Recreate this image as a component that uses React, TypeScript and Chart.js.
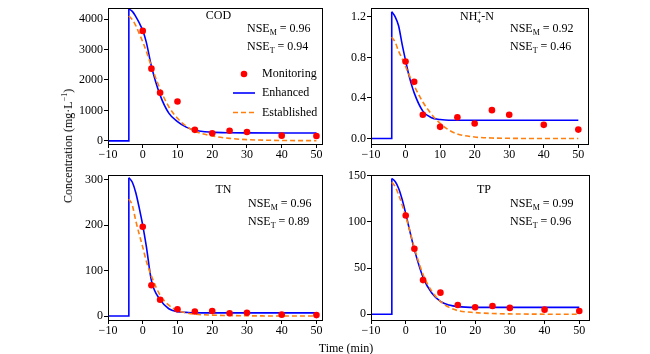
import React, { useEffect, useRef } from "react";
import { Chart, registerables } from "chart.js";
Chart.register(...registerables);

const FONT = "'Liberation Serif', 'Times New Roman', serif";
const BLUE = "#0000ff";
const ORANGE = "#ff7f0e";
const RED = "#ff0000";

// ---------- data ----------
const preTime = [-10, -4];
const preConc = [0, 0];
const curveTime = [-4, -3, -2, -1, 0, 1, 2.5, 5, 7.5, 10, 12.5, 15, 20, 25, 30, 40, 50];
const sampleTime = [0, 2.5, 5, 10, 15, 20, 25, 30, 40, 50];
const timeTicks = [-10, 0, 10, 20, 30, 40, 50];

const codEnhanced = [4330, 4250, 4080, 3870, 3620, 3250, 2450, 1500, 910, 630, 450, 350, 285, 265, 260, 258, 258];
const codEstablished = [4100, 3980, 3780, 3520, 3250, 2950, 2450, 1700, 1120, 740, 480, 320, 160, 80, 40, 12, 5];
const codMonitoring = [3610, 2370, 1580, 1290, 360, 250, 330, 290, 170, 160];
const codTicks = [0, 1000, 2000, 3000, 4000];

const nh4Enhanced = [1.25, 1.2, 1.11, 0.93, 0.77, 0.62, 0.45, 0.27, 0.205, 0.188, 0.18, 0.18, 0.18, 0.18, 0.18, 0.18, 0.18];
const nh4Established = [1.0, 0.95, 0.86, 0.79, 0.71, 0.63, 0.52, 0.36, 0.24, 0.15, 0.085, 0.045, 0.015, 0.005, 0.002, 0, 0];
const nh4Monitoring = [0.76, 0.56, 0.235, 0.115, 0.21, 0.148, 0.28, 0.235, 0.135, 0.088];
const nh4Ticks = [0, 0.4, 0.8, 1.2];

const tnEnhanced = [305, 295, 272, 238, 200, 155, 78, 36, 16, 9.5, 8, 7, 7, 7, 7, 7, 7];
const tnEstablished = [258, 244, 210, 180, 152, 122, 88, 46, 24, 12, 7, 4, 2, 1, 0.5, 0, 0];
const tnMonitoring = [197, 68, 36, 15, 10, 11, 6, 7, 3, 2];
const tnTicks = [0, 100, 200, 300];

const tpEnhanced = [147, 143.5, 136, 124, 109, 93, 70, 40, 23, 14, 10, 8.3, 7.5, 7.5, 7.5, 7.5, 7.5];
const tpEstablished = [143, 138, 129, 118, 106, 93, 72, 43, 25, 14, 7.5, 4, 1.8, 0.8, 0.4, 0.1, 0];
const tpMonitoring = [107, 71, 37, 23.4, 10, 7.6, 9, 6.9, 5, 3.6];
const tpTicks = [0, 50, 100, 150];

const nseM = ["0.96", "0.92", "0.96", "0.99"];
const nseT = ["0.94", "0.46", "0.89", "0.96"];

// ---------- helpers ----------
const pts = (xs: number[], ys: number[]) => xs.map((x, i) => ({ x, y: ys[i] }));
const fmtNum = (v: number, d: number) => {
  const s = v.toFixed(d);
  return v < 0 ? "\u2212" + s.slice(1) : s;
};

function drawNSE(ctx: CanvasRenderingContext2D, x: number, yMid: number, sub: string, val: string) {
  const base = yMid + 4;
  ctx.fillStyle = "#000";
  ctx.textAlign = "left";
  ctx.textBaseline = "alphabetic";
  ctx.font = `12px ${FONT}`;
  ctx.fillText("NSE", x, base);
  let w = ctx.measureText("NSE").width;
  ctx.font = `8px ${FONT}`;
  ctx.fillText(sub, x + w, base + 3);
  w += ctx.measureText(sub).width;
  ctx.font = `12px ${FONT}`;
  ctx.fillText(" = " + val, x + w, base);
}

function drawTitle(ctx: CanvasRenderingContext2D, text: string, cx: number, yMid: number) {
  ctx.fillStyle = "#000";
  ctx.font = `12px ${FONT}`;
  ctx.textAlign = "center";
  ctx.textBaseline = "middle";
  ctx.fillText(text, cx, yMid);
}

function drawNH4(ctx: CanvasRenderingContext2D, x: number, yMid: number) {
  const base = yMid + 4;
  ctx.fillStyle = "#000";
  ctx.textAlign = "left";
  ctx.textBaseline = "alphabetic";
  ctx.font = `12px ${FONT}`;
  ctx.fillText("NH", x, base);
  let w = ctx.measureText("NH").width;
  ctx.font = `7px ${FONT}`;
  ctx.fillText("4", x + w, base + 3);
  ctx.fillText("+", x + w, base - 5);
  w += Math.max(ctx.measureText("4").width, ctx.measureText("+").width);
  ctx.font = `12px ${FONT}`;
  ctx.fillText("-N", x + w, base);
}

function drawLegend(ctx: CanvasRenderingContext2D) {
  const x0 = 233, x1 = 255, tx = 262;
  ctx.fillStyle = RED;
  ctx.beginPath();
  ctx.arc((x0 + x1) / 2, 74, 3.3, 0, Math.PI * 2);
  ctx.fill();
  ctx.lineWidth = 1.6;
  ctx.strokeStyle = BLUE;
  ctx.setLineDash([]);
  ctx.beginPath();
  ctx.moveTo(x0, 93);
  ctx.lineTo(x1, 93);
  ctx.stroke();
  ctx.strokeStyle = ORANGE;
  ctx.setLineDash([5, 3]);
  ctx.beginPath();
  ctx.moveTo(x0, 112.5);
  ctx.lineTo(x1, 112.5);
  ctx.stroke();
  ctx.setLineDash([]);
  ctx.fillStyle = "#000";
  ctx.font = `12px ${FONT}`;
  ctx.textAlign = "left";
  ctx.textBaseline = "middle";
  ctx.fillText("Monitoring", tx, 74);
  ctx.fillText("Enhanced", tx, 93);
  ctx.fillText("Established", tx, 112.5);
}

type Box = { left: number; top: number; width: number; height: number };
type Area = { left: number; top: number; right: number; bottom: number };
type PanelCfg = {
  id: string;
  box: Box;
  area: Area;
  xMax: number;
  yMin: number;
  yMax: number;
  yTicks: number[];
  decimals: number;
  enhanced: number[];
  established: number[];
  monitoring: number[];
  annotate: (ctx: CanvasRenderingContext2D) => void;
};

const panels: PanelCfg[] = [
  {
    id: "COD",
    box: { left: 20, top: 0, width: 315, height: 165 },
    area: { left: 108, top: 2, right: 322, bottom: 144 },
    xMax: 51.6, yMin: -104, yMax: 4355, yTicks: codTicks, decimals: 0,
    enhanced: codEnhanced, established: codEstablished, monitoring: codMonitoring,
    annotate: (ctx) => {
      drawTitle(ctx, "COD", 218.5, 16);
      drawNSE(ctx, 247, 28, "M", nseM[0]);
      drawNSE(ctx, 247, 46, "T", nseT[0]);
      drawLegend(ctx);
    },
  },
  {
    id: "NH4",
    box: { left: 335, top: 0, width: 265, height: 165 },
    area: { left: 371, top: 2, right: 588, bottom: 144 },
    xMax: 52.8, yMin: -0.054, yMax: 1.285, yTicks: nh4Ticks, decimals: 1,
    enhanced: nh4Enhanced, established: nh4Established, monitoring: nh4Monitoring,
    annotate: (ctx) => {
      drawNH4(ctx, 460, 16);
      drawNSE(ctx, 510, 28, "M", nseM[1]);
      drawNSE(ctx, 510, 46, "T", nseT[1]);
    },
  },
  {
    id: "TN",
    box: { left: 20, top: 160, width: 315, height: 180 },
    area: { left: 108, top: 175, right: 322, bottom: 320 },
    xMax: 51.6, yMin: -8.8, yMax: 311, yTicks: tnTicks, decimals: 0,
    enhanced: tnEnhanced, established: tnEstablished, monitoring: tnMonitoring,
    annotate: (ctx) => {
      drawTitle(ctx, "TN", 223.5, 189.5);
      drawNSE(ctx, 248, 202.5, "M", nseM[2]);
      drawNSE(ctx, 248, 220.5, "T", nseT[2]);
    },
  },
  {
    id: "TP",
    box: { left: 335, top: 160, width: 265, height: 180 },
    area: { left: 371, top: 175, right: 589, bottom: 320 },
    xMax: 52.8, yMin: -6.2, yMax: 150.8, yTicks: tpTicks, decimals: 0,
    enhanced: tpEnhanced, established: tpEstablished, monitoring: tpMonitoring,
    annotate: (ctx) => {
      drawTitle(ctx, "TP", 484, 189.5);
      drawNSE(ctx, 510, 202.5, "M", nseM[3]);
      drawNSE(ctx, 510, 220.5, "T", nseT[3]);
    },
  },
];

function Panel({ cfg }: { cfg: PanelCfg }) {
  const ref = useRef<HTMLCanvasElement | null>(null);
  useEffect(() => {
    const canvas = ref.current;
    if (!canvas) return;
    const { box, area } = cfg;
    const yWidth = area.left - box.left;
    const xHeight = box.top + box.height - area.bottom;
    const padRight = box.left + box.width - area.right;
    const padTop = area.top - box.top;

    const framePlugin = {
      id: "frameAnnot",
      afterDraw(chart: any) {
        const ctx: CanvasRenderingContext2D = chart.ctx;
        const a = chart.chartArea;
        ctx.save();
        ctx.strokeStyle = "#000";
        ctx.lineWidth = 1;
        ctx.setLineDash([]);
        ctx.strokeRect(Math.round(a.left) + 0.5, Math.round(a.top) + 0.5, Math.round(a.right - a.left), Math.round(a.bottom - a.top));
        ctx.translate(-box.left, -box.top);
        cfg.annotate(ctx);
        ctx.restore();
      },
    };

    const peak = cfg.enhanced[0];
    const chart = new Chart(canvas, {
      type: "line",
      data: {
        datasets: [
          {
            label: "Monitoring",
            data: pts(sampleTime, cfg.monitoring),
            showLine: false,
            pointRadius: 3.3,
            pointBorderWidth: 0,
            pointBackgroundColor: RED,
            borderColor: RED,
            backgroundColor: RED,
            order: 0,
          },
          {
            label: "Established",
            data: pts(curveTime, cfg.established),
            borderColor: ORANGE,
            borderWidth: 1.6,
            borderDash: [5, 3],
            pointRadius: 0,
            cubicInterpolationMode: "monotone",
            order: 1,
          },
          {
            label: "Enhanced",
            data: pts(curveTime, cfg.enhanced),
            borderColor: BLUE,
            borderWidth: 1.6,
            pointRadius: 0,
            cubicInterpolationMode: "monotone",
            order: 2,
          },
          {
            label: "Enhanced (pre)",
            data: [...pts(preTime, preConc), { x: curveTime[0], y: peak }],
            borderColor: BLUE,
            borderWidth: 1.6,
            pointRadius: 0,
            tension: 0,
            order: 3,
          },
        ],
      } as any,
      options: {
        animation: false,
        responsive: false,
        events: [],
        layout: { padding: { left: 0, right: padRight, top: padTop, bottom: 0 } },
        plugins: { legend: { display: false }, tooltip: { enabled: false } },
        scales: {
          x: {
            type: "linear",
            min: -10,
            max: cfg.xMax,
            afterBuildTicks: (axis: any) => {
              axis.ticks = timeTicks.map((v) => ({ value: v }));
            },
            afterFit: (s: any) => {
              s.height = xHeight;
            },
            grid: { display: true, drawOnChartArea: false, drawTicks: true, tickLength: 4, color: "#000" },
            border: { display: false },
            ticks: {
              font: { family: FONT, size: 12 },
              color: "#000",
              padding: 0,
              maxRotation: 0,
              autoSkip: false,
              callback: (v: any) => fmtNum(Number(v), 0),
            },
          },
          y: {
            type: "linear",
            min: cfg.yMin,
            max: cfg.yMax,
            afterBuildTicks: (axis: any) => {
              axis.ticks = cfg.yTicks.map((v) => ({ value: v }));
            },
            afterFit: (s: any) => {
              s.width = yWidth;
            },
            grid: { display: true, drawOnChartArea: false, drawTicks: true, tickLength: 4, color: "#000" },
            border: { display: false },
            ticks: {
              font: { family: FONT, size: 12 },
              color: "#000",
              padding: 1,
              autoSkip: false,
              callback: (v: any) => fmtNum(Number(v), cfg.decimals),
            },
          },
        },
      } as any,
      plugins: [framePlugin],
    });
    return () => chart.destroy();
  }, [cfg]);

  return (
    <canvas
      ref={ref}
      width={cfg.box.width}
      height={cfg.box.height}
      style={{
        position: "absolute",
        left: cfg.box.left,
        top: cfg.box.top,
        width: cfg.box.width,
        height: cfg.box.height,
        display: "block",
      }}
    />
  );
}

export default function App() {
  return (
    <div style={{ position: "absolute", left: 0, top: 0, width: 650, height: 354, background: "#fff", fontFamily: FONT }}>
      {panels.map((p) => (
        <Panel key={p.id} cfg={p} />
      ))}
      <div
        style={{
          position: "absolute",
          left: 68,
          top: 146,
          transform: "translate(-50%, -50%) rotate(-90deg)",
          whiteSpace: "nowrap",
          fontSize: 12,
          lineHeight: "14px",
          color: "#000",
        }}
      >
        Concentration (mg·L<sup style={{ fontSize: 8, verticalAlign: "top", lineHeight: "8px" }}>−1</sup>)
      </div>
      <div
        style={{
          position: "absolute",
          left: 346,
          top: 348,
          transform: "translate(-50%, -50%)",
          whiteSpace: "nowrap",
          fontSize: 12,
          lineHeight: "14px",
          color: "#000",
        }}
      >
        Time (min)
      </div>
    </div>
  );
}
